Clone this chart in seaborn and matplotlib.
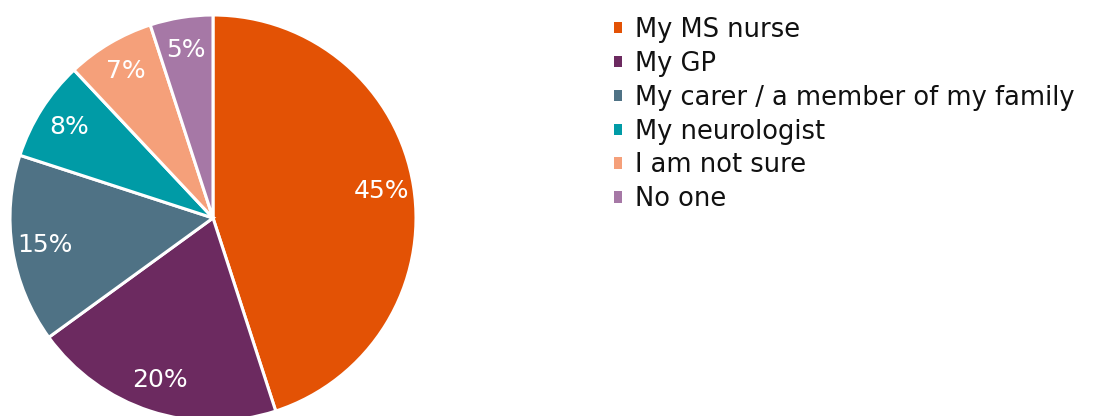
import matplotlib
matplotlib.use("Agg")
import matplotlib.pyplot as plt
import matplotlib.patches as mpatches
import seaborn as sns

categories = ["My MS nurse", "My GP", "My carer / a member of my family",
              "My neurologist", "I am not sure", "No one"]
values = [45, 20, 15, 8, 7, 5]
colors = ["#E35205", "#6C2A60", "#4F7285", "#009BA6", "#F5A07A", "#A678A6"]

sns.set_theme(style="white")
plt.rcParams['font.family'] = ['DejaVu Sans']
palette = sns.color_palette(colors)

W, H = 1098, 416
fig = plt.figure(figsize=(W / 100, H / 100), dpi=100)
cx, cy, r = 213, 218, 203
ax = fig.add_axes([(cx - r) / W, (H - cy - r) / H, 2 * r / W, 2 * r / H])

wedges, texts, autotexts = ax.pie(
    values, colors=palette, startangle=90, counterclock=False, radius=1,
    autopct=lambda p: f"{p:.0f}%", pctdistance=0.84,
    wedgeprops=dict(edgecolor="white", linewidth=2.2),
    textprops=dict(color="white", fontsize=18))
ax.set_xlim(-1, 1)
ax.set_ylim(-1, 1)
ax.set_aspect("equal")
ax.axis("off")
for w in wedges:
    w.set_clip_on(False)

handles = [mpatches.Patch(facecolor=c, edgecolor="none", label=l)
           for c, l in zip(palette, categories)]
leg = fig.legend(handles=handles, loc="upper left",
                 bbox_to_anchor=(614 / W, 1 - 17 / H), frameon=False,
                 fontsize=18.5, handlelength=0.31, handleheight=0.31,
                 handletextpad=0.5, labelspacing=0.305, borderaxespad=0,
                 borderpad=0)
for t in leg.get_texts():
    t.set_color("#111111")

fig.savefig("out.png", dpi=100)
